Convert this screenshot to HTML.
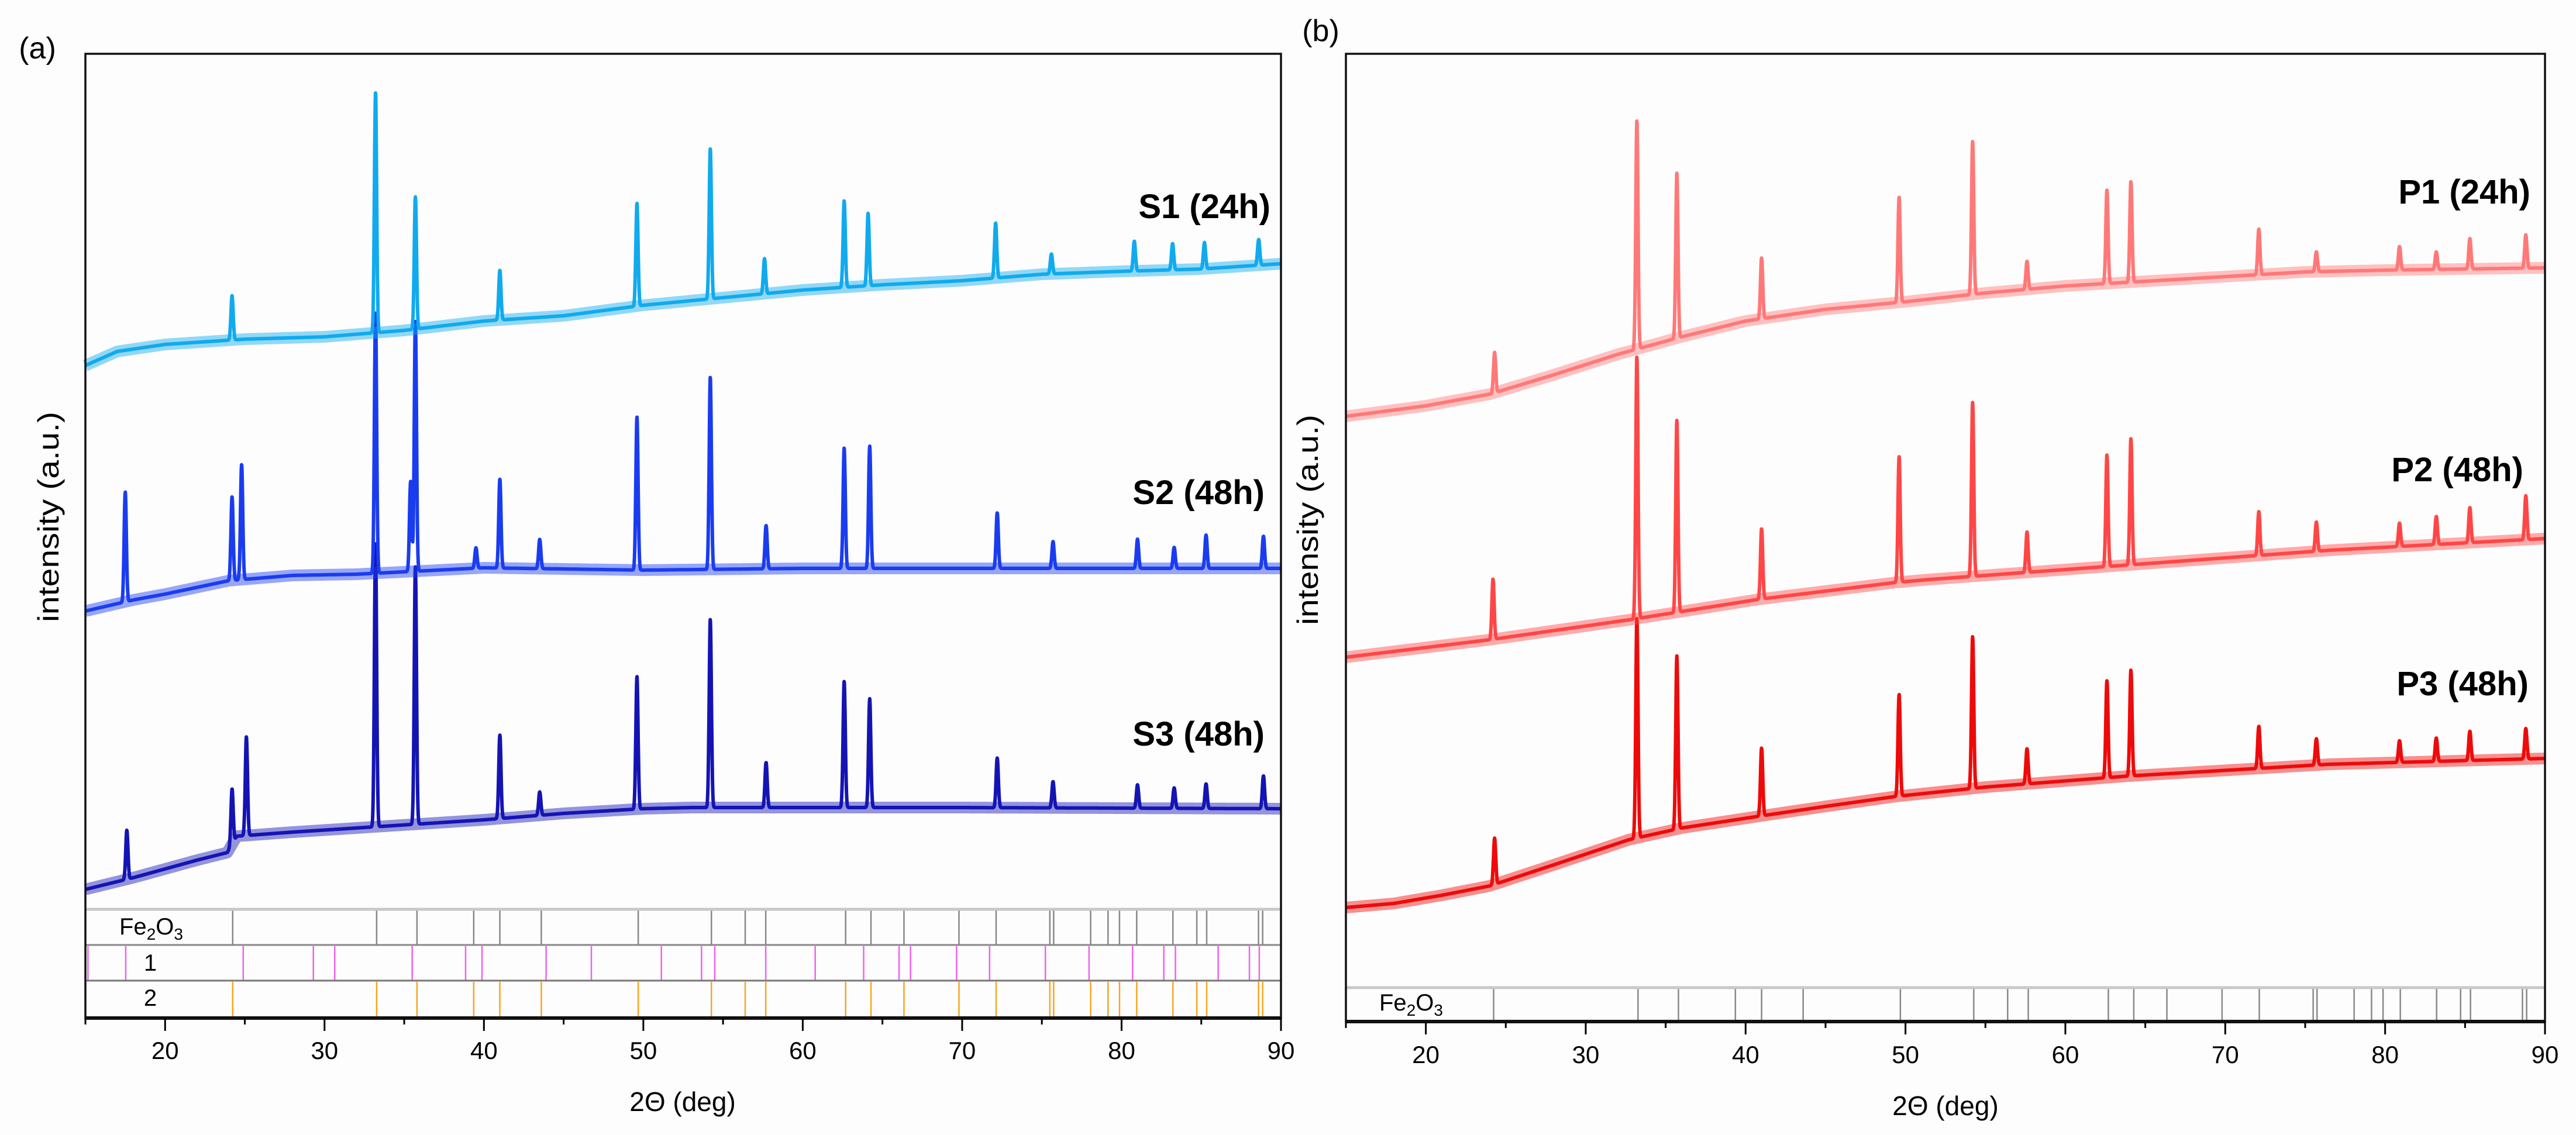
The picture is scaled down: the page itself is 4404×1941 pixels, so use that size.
<!DOCTYPE html>
<html><head><meta charset="utf-8"><style>
html,body{margin:0;padding:0;background:#fdfdfd;}
svg{display:block;font-family:"Liberation Sans",Arial,sans-serif;}
</style></head><body>
<svg id="fig" width="4404" height="1941" viewBox="0 0 4404 1941" xmlns="http://www.w3.org/2000/svg">
<rect x="0" y="0" width="4404" height="1941" fill="#fdfdfd"/>
<g id="panelA"></g>
<g id="panelB"></g>
</svg>
<script>
// ---- data ----
const xTicks = [20, 30, 40, 50, 60, 70, 80, 90];
const xMinorTicks = [15, 25, 35, 45, 55, 65, 75, 85];
const seriesNamesA = ["S1 (24h)", "S2 (48h)", "S3 (48h)"];
const seriesNamesB = ["P1 (24h)", "P2 (48h)", "P3 (48h)"];

const s1BgX = [15, 17, 20, 25, 30, 35, 40, 45, 50, 55, 60, 65, 70, 75, 80, 85, 90];
const s1BgY = [1116, 1140, 1152, 1161, 1165, 1176, 1192, 1201, 1219, 1232, 1245, 1254, 1261, 1272, 1277, 1281, 1290];
const s1PeakPos = [24.2, 33.2, 35.7, 41, 49.6, 54.2, 57.6, 62.6, 64.1, 72.1, 75.6, 80.8, 83.2, 85.2, 88.6];
const s1PeakH = [76, 411, 226, 85, 176, 257, 60, 148, 124, 94, 34, 51, 45, 45, 44];

const s2BgX = [15, 18, 20, 24, 28, 32, 40, 50, 60, 70, 80, 90];
const s2BgY = [696, 715, 725, 748, 757, 759, 770, 766, 769, 769, 769, 769];
const s2PeakPos = [17.5, 24.2, 24.8, 33.2, 35.4, 35.7, 39.5, 41, 43.5, 49.6, 54.2, 57.7, 62.6, 64.2, 72.2, 75.7, 81, 83.3, 85.3, 88.9];
const s2PeakH = [188, 143, 197, 446, 154, 427, 35, 152, 50, 262, 329, 74, 206, 209, 95, 46, 50, 36, 57, 55];

const s3BgX = [15, 18, 20, 22, 23.9, 24.5, 28, 32, 40, 45, 50, 53, 70, 90];
const s3BgY = [220, 240, 255, 270, 283, 311, 318, 325, 339, 350, 358, 360, 360, 358];
const s3PeakPos = [17.6, 24.2, 25.1, 33.2, 35.7, 41, 43.5, 49.6, 54.2, 57.7, 62.6, 64.2, 72.2, 75.7, 81, 83.3, 85.3, 88.9];
const s3PeakH = [84, 95, 169, 485, 440, 143, 40, 227, 322, 77, 216, 186, 85, 45, 40, 35, 42, 56];

const p1BgX = [15, 20, 24, 28, 32, 36, 40, 45, 50, 55, 60, 65, 70, 75, 80, 85, 90];
const p1BgY = [1029, 1047, 1067, 1100, 1135, 1165, 1192, 1212, 1225, 1240, 1252, 1260, 1268, 1276, 1279, 1281, 1283];
const p1PeakPos = [24.3, 33.2, 35.7, 41, 49.6, 54.2, 57.6, 62.6, 64.1, 72.1, 75.7, 80.9, 83.2, 85.3, 88.8];
const p1PeakH = [69, 391, 282, 104, 180, 262, 48, 160, 172, 78, 34, 40, 30, 52, 57];

const p2BgX = [15, 24, 32.7, 40.8, 49.4, 51.5, 64, 76.5, 90];
const p2BgY = [617, 647, 681, 716, 745, 750, 775, 800, 820];
const p2PeakPos = [24.2, 33.2, 35.7, 41, 49.6, 54.2, 57.6, 62.6, 64.1, 72.1, 75.7, 80.9, 83.2, 85.3, 88.8];
const p2PeakH = [103, 448, 328, 120, 215, 298, 69, 191, 216, 75, 50, 40, 48, 60, 75];

const p3BgX = [15, 18, 21, 24, 28, 32.7, 36, 40.8, 45, 49.4, 55, 64, 76.5, 90];
const p3BgY = [189, 196, 210, 226, 262, 305, 325, 345, 362, 379, 395, 414, 434, 444];
const p3PeakPos = [24.3, 33.2, 35.7, 41, 49.6, 54.2, 57.6, 62.6, 64.1, 72.1, 75.7, 80.9, 83.2, 85.3, 88.8];
const p3PeakH = [79, 376, 296, 116, 174, 260, 60, 166, 181, 72, 45, 37, 40, 50, 52];

const fe2o3Lines = [24.24, 33.27, 35.8, 39.36, 41.0, 43.6, 49.68, 54.27, 56.39, 57.68, 62.69, 64.28, 66.35, 69.8, 72.13, 75.5, 75.74, 78.06, 79.15, 79.87, 80.95, 83.22, 84.72, 85.34, 88.59, 88.85];
const phase1Lines = [15.16, 17.53, 24.9, 29.3, 30.64, 35.5, 38.85, 39.88, 43.9, 46.74, 51.13, 53.65, 54.48, 57.68, 60.78, 63.82, 66.04, 66.76, 69.65, 71.72, 75.22, 77.96, 80.69, 82.65, 83.38, 86.06, 88.02, 88.64];
const phase2Lines = [24.24, 33.27, 35.8, 39.36, 41.0, 43.6, 49.68, 54.27, 56.39, 57.68, 62.69, 64.28, 66.35, 69.8, 72.13, 75.5, 75.74, 78.06, 79.15, 79.87, 80.95, 83.22, 84.72, 85.34, 88.59, 88.85];

// ---- helpers ----
const NS = "http://www.w3.org/2000/svg";
function mk(tag, attrs, parent) {
  const e = document.createElementNS(NS, tag);
  for (const k in attrs) e.setAttribute(k, attrs[k]);
  parent.appendChild(e);
  return e;
}
function interp(xs, ys, x) {
  if (x <= xs[0]) return ys[0];
  for (let i = 1; i < xs.length; i++) {
    if (x <= xs[i]) { const t = (x - xs[i-1]) / (xs[i] - xs[i-1]); return ys[i-1] + t * (ys[i] - ys[i-1]); }
  }
  return ys[ys.length - 1];
}
function makeAxis(left, right, bottom) {
  return {
    x: d => left + (d - 15) * (right - left) / 75,
    y: v => 1741 - v,
    left, right, bottom
  };
}
function drawSeries(g, ax, bgX, bgY, pos, h, color, name) {
  let d = "", db = "";
  const sig = 0.07;
  for (let x = 15; x <= 90.0001; x += 0.015) {
    const b = interp(bgX, bgY, x);
    let v = b;
    for (let i = 0; i < pos.length; i++) {
      const dx = (x - pos[i]) / sig;
      if (Math.abs(dx) < 7) v += h[i] * Math.exp(-0.5 * dx * dx);
    }
    d += (d ? "L" : "M") + ax.x(x).toFixed(1) + "," + ax.y(v).toFixed(1);
    db += (db ? "L" : "M") + ax.x(x).toFixed(1) + "," + ax.y(b).toFixed(1);
  }
  const band = mk("path", {d: db, fill: "none", stroke: color, "stroke-width": 20, "stroke-opacity": 0.45, "stroke-linejoin": "round"}, g);
  
  
  const p = mk("path", {d: d, fill: "none", stroke: color, "stroke-width": 6, "stroke-linejoin": "round"}, g);
  
  
}
function drawRefLines(g, ax, lines, y1, y2, color, name) {
  lines.forEach(v => {
    const l = mk("line", {x1: ax.x(v), x2: ax.x(v), y1: y1, y2: y2, stroke: color, "stroke-width": 2.5}, g);
    
    
  });
}
function drawXAxis(g, ax, labelY, titleX, titleY) {
  xTicks.forEach(t => {
    const l = mk("line", {x1: ax.x(t), x2: ax.x(t), y1: ax.bottom, y2: ax.bottom + 22, stroke: "#000", "stroke-width": 3}, g);
    
    
    const tx = mk("text", {x: ax.x(t), y: labelY, "font-size": 42, "text-anchor": "middle", fill: "#000"}, g);
    tx.textContent = t;
    
    
  });
  xMinorTicks.forEach(t => {
    const l = mk("line", {x1: ax.x(t), x2: ax.x(t), y1: ax.bottom, y2: ax.bottom + 11, stroke: "#000", "stroke-width": 3}, g);
    
    
  });
  const tt = mk("text", {x: titleX, y: titleY, "font-size": 46, "text-anchor": "middle", fill: "#000"}, g);
  tt.textContent = "2\u0398 (deg)";
  
  
}
function drawYTitle(g, cx, cy) {
  const t = mk("text", {x: 0, y: 0, "font-size": 50, "text-anchor": "middle", fill: "#000", transform: "translate(" + cx + "," + cy + ") rotate(-90)", textLength: 360, lengthAdjust: "spacingAndGlyphs"}, g);
  t.textContent = "intensity (a.u.)";
  
  
}
function label(g, x, y, txt, name, size, weight, anchor) {
  const t = mk("text", {x: x, y: y, "font-size": size, "font-weight": weight, "text-anchor": anchor, fill: "#000"}, g);
  t.textContent = txt;
  
  
  return t;
}
function feLabel(g, x, y, name) {
  const t = mk("text", {x: x, y: y, "font-size": 40, fill: "#000"}, g);
  
  
  t.innerHTML = 'Fe<tspan font-size="28" dy="9">2</tspan><tspan dy="-9">O</tspan><tspan font-size="28" dy="9">3</tspan>';
}

// ---- Panel A ----
const gA = document.getElementById("panelA");
const axA = makeAxis(146, 2190, 1741);
drawSeries(gA, axA, s3BgX, s3BgY, s3PeakPos, s3PeakH, "#1414b4", "series-s3");
drawSeries(gA, axA, s2BgX, s2BgY, s2PeakPos, s2PeakH, "#1a3cf0", "series-s2");
drawSeries(gA, axA, s1BgX, s1BgY, s1PeakPos, s1PeakH, "#10aaee", "series-s1");
mk("rect", {x: 146, y: 1555, width: 2044, height: 186, fill: "#fdfdfd"}, gA);
drawRefLines(gA, axA, fe2o3Lines, 1557, 1615, "#888", "fe2o3-ref-line");
drawRefLines(gA, axA, phase1Lines, 1618, 1676, "#f060f0", "phase1-ref-line");
drawRefLines(gA, axA, phase2Lines, 1679, 1740, "#f5a623", "phase2-ref-line");
mk("line", {x1: 146, x2: 2190, y1: 1555, y2: 1555, stroke: "#c8c8c8", "stroke-width": 5}, gA);
mk("line", {x1: 146, x2: 2190, y1: 1616, y2: 1616, stroke: "#888", "stroke-width": 3}, gA);
mk("line", {x1: 146, x2: 2190, y1: 1677, y2: 1677, stroke: "#777", "stroke-width": 3}, gA);
feLabel(gA, 204, 1598, "fe2o3-strip-label");
label(gA, 257, 1660, "1", "phase1-strip-label", 40, "normal", "middle");
label(gA, 257, 1720, "2", "phase2-strip-label", 40, "normal", "middle");
mk("rect", {x: 146, y: 92, width: 2044, height: 1649, fill: "none", stroke: "#111", "stroke-width": 3.5}, gA);
mk("line", {x1: 146, x2: 2190, y1: 1741, y2: 1741, stroke: "#111", "stroke-width": 6}, gA);
drawXAxis(gA, axA, 1811, 1167, 1900);
drawYTitle(gA, 100, 884);
label(gA, 64, 100, "(a)", "panel-label-a", 52, "normal", "middle");
label(gA, 2172, 373, seriesNamesA[0], "label-s1", 58, "bold", "end");
label(gA, 2162, 862, seriesNamesA[1], "label-s2", 58, "bold", "end");
label(gA, 2162, 1275, seriesNamesA[2], "label-s3", 58, "bold", "end");

// ---- Panel B ----
const gB = document.getElementById("panelB");
const axB = makeAxis(2301, 4351, 1747);
drawSeries(gB, axB, p3BgX, p3BgY, p3PeakPos, p3PeakH, "#ee0a0a", "series-p3");
drawSeries(gB, axB, p2BgX, p2BgY, p2PeakPos, p2PeakH, "#ff4646", "series-p2");
drawSeries(gB, axB, p1BgX, p1BgY, p1PeakPos, p1PeakH, "#ff7878", "series-p1");
mk("rect", {x: 2301, y: 1689, width: 2050, height: 58, fill: "#fdfdfd"}, gB);
drawRefLines(gB, axB, fe2o3Lines, 1691, 1746, "#888", "fe2o3-ref-line");
mk("line", {x1: 2301, x2: 4351, y1: 1689, y2: 1689, stroke: "#c8c8c8", "stroke-width": 5}, gB);
feLabel(gB, 2358, 1728, "fe2o3-strip-label-b");
mk("rect", {x: 2301, y: 92, width: 2050, height: 1655, fill: "none", stroke: "#111", "stroke-width": 3.5}, gB);
mk("line", {x1: 2301, x2: 4351, y1: 1747, y2: 1747, stroke: "#111", "stroke-width": 6}, gB);
drawXAxis(gB, axB, 1818, 3326, 1907);
drawYTitle(gB, 2253, 889);
label(gB, 2258, 70, "(b)", "panel-label-b", 52, "normal", "middle");
label(gB, 4326, 348, seriesNamesB[0], "label-p1", 58, "bold", "end");
label(gB, 4314, 823, seriesNamesB[1], "label-p2", 58, "bold", "end");
label(gB, 4323, 1189, seriesNamesB[2], "label-p3", 58, "bold", "end");
</script>
</body></html>
